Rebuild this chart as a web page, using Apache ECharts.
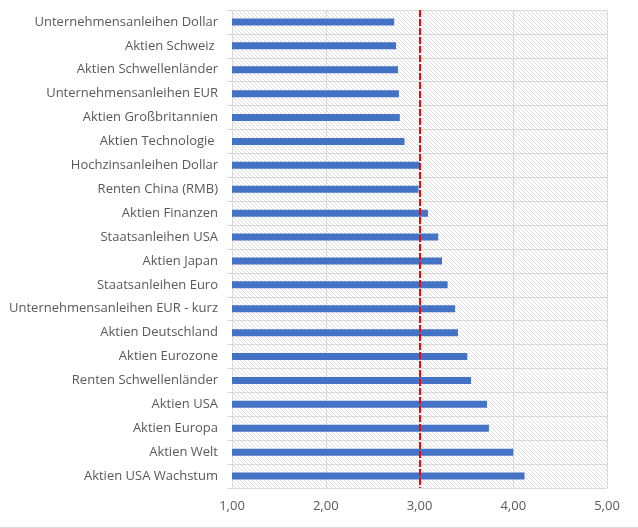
<!DOCTYPE html>
<html><head><meta charset="utf-8">
<script src="https://cdn.jsdelivr.net/npm/echarts@6/dist/echarts.min.js"></script>
<style>html,body{margin:0;padding:0;background:#fff}#c{width:638px;height:528px}</style>
</head><body><div id="c"></div>
<script>
const categories = [
  'Unternehmensanleihen Dollar','Aktien Schweiz ','Aktien Schwellenländer','Unternehmensanleihen EUR',
  'Aktien Großbritannien','Aktien Technologie ','Hochzinsanleihen Dollar','Renten China (RMB)',
  'Aktien Finanzen','Staatsanleihen USA','Aktien Japan','Staatsanleihen Euro',
  'Unternehmensanleihen EUR - kurz','Aktien Deutschland','Aktien Eurozone','Renten Schwellenländer',
  'Aktien USA','Aktien Europa','Aktien Welt','Aktien USA Wachstum'
];
const values = [2.73,2.75,2.77,2.78,2.79,2.84,3.00,2.99,3.09,3.20,3.24,3.30,3.38,3.41,3.51,3.55,3.72,3.74,4.00,4.12];
const referenceValue = 3.00;

const pc = document.createElement('canvas');
pc.width = 4; pc.height = 4;
const g = pc.getContext('2d');
g.fillStyle = '#ffffff'; g.fillRect(0,0,4,4);
g.fillStyle = '#dcdcdc';
for (let i = 0; i < 4; i++) g.fillRect(i, i, 1, 1);

const chart = echarts.init(document.getElementById('c'));
chart.setOption({
  animation: false,
  backgroundColor: '#fff',
  grid: { left: 232, right: 31, top: 10, bottom: 40, show: true,
    backgroundColor: { image: pc, repeat: 'repeat' }, borderWidth: 0 },
  xAxis: {
    type: 'value', min: 1, max: 5, interval: 1,
    axisLine: { show: false }, axisTick: { show: false },
    splitLine: { show: true, lineStyle: { color: '#d9d9d9', width: 1 } },
    axisLabel: { color: '#595959', fontFamily: 'Open Sans', fontSize: 13, margin: 12,
      formatter: v => v.toFixed(2).replace('.', ',') }
  },
  yAxis: {
    type: 'category', data: categories, inverse: true,
    axisLine: { show: true, lineStyle: { color: '#d9d9d9' } },
    axisTick: { show: true, length: 5, lineStyle: { color: '#d9d9d9' } },
    splitLine: { show: true, lineStyle: { color: '#d9d9d9', width: 1 } },
    axisLabel: { color: '#595959', fontFamily: 'Open Sans', fontSize: 13, margin: 14 }
  },
  series: [{
    type: 'bar', data: values, barWidth: 7,
    itemStyle: { color: '#4472C4' },
    markLine: {
      silent: true, symbol: 'none', label: { show: false },
      lineStyle: { color: '#ff0000', width: 2, type: [7, 2] },
      data: [{ xAxis: referenceValue }]
    }
  }],
  graphic: [{ type: 'line', shape: { x1: 0, y1: 527.5, x2: 638, y2: 527.5 }, style: { stroke: '#d9d9d9', lineWidth: 1 } }]
});
</script></body></html>
